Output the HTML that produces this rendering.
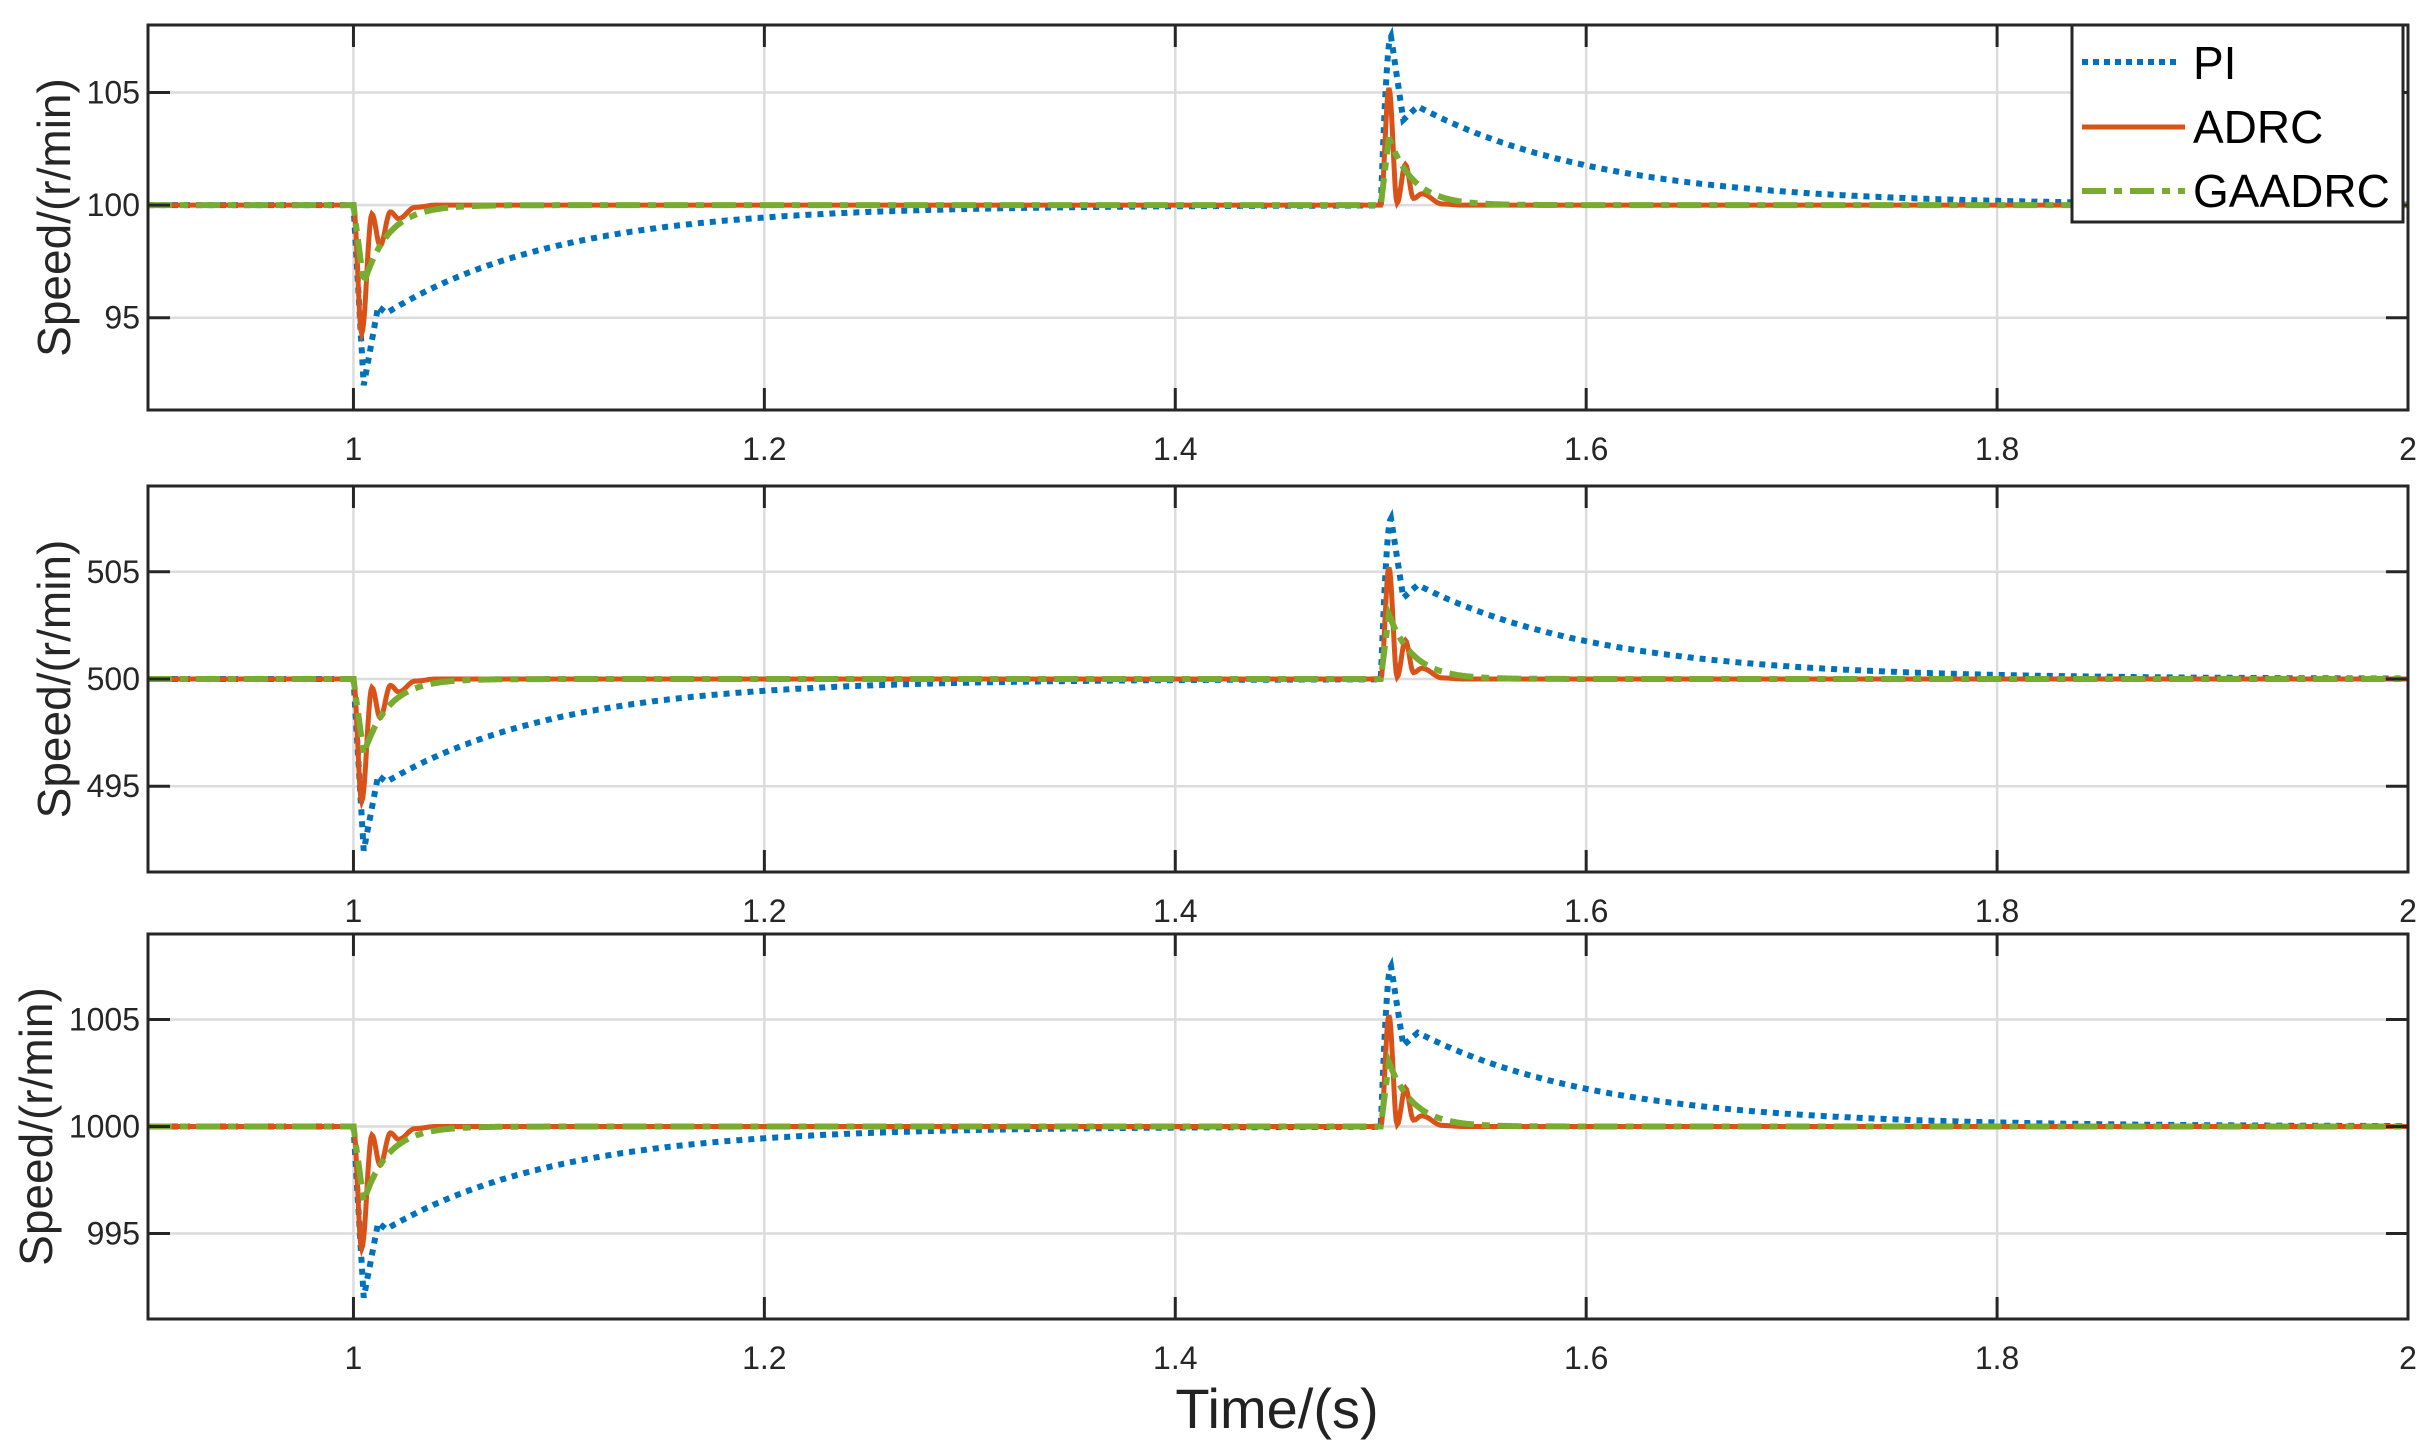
<!DOCTYPE html>
<html><head><meta charset="utf-8"><style>
html,body{margin:0;padding:0;background:#fff}
svg{display:block}
text{font-family:"Liberation Sans",Arial,sans-serif}
</style></head><body>
<svg id="s" width="2436" height="1453" viewBox="0 0 2436 1453" xmlns="http://www.w3.org/2000/svg">
<rect width="2436" height="1453" fill="#fff"/>
<g id="g"></g>
<text x="1277" y="1428" font-size="56" text-anchor="middle" fill="#222">Time/(s)</text>
</svg>
<script>
var NS="http://www.w3.org/2000/svg",G=document.getElementById('g');
function el(t,a,txt){var e=document.createElementNS(NS,t);for(var k in a)e.setAttribute(k,a[k]);if(txt!==undefined)e.textContent=txt;G.appendChild(e);return e;}
var L=148,R=2408,X0=0.9,X1=2;
function X(t){return L+(t-X0)/(X1-X0)*(R-L);}
function interp(pts,u){if(u<=0)return 0;for(var i=1;i<pts.length;i++){if(u<=pts[i][0]){var a=pts[i-1],b=pts[i];var s=(u-a[0])/(b[0]-a[0]);s=0.5-0.5*Math.cos(Math.PI*s);return a[1]+(b[1]-a[1])*s;}}return pts[pts.length-1][1];}
function pi(t){
 var v=0;
 if(t>=1){var u=t-1;
  if(u<0.005)v=-8*u/0.005;
  else if(u<0.012)v=-8+3.5*(u-0.005)/0.007;
  else if(u<0.016)v=-4.5-0.3*(u-0.012)/0.004;
  else v=-4.8*Math.exp(-(u-0.016)/0.085);}
 if(t>=1.5){var w=t-1.5,p;
  if(w<0.005)p=7.5*Math.sin(Math.PI/2*w/0.005);
  else if(w<0.011)p=7.5-3.7*(w-0.005)/0.006;
  else if(w<0.018)p=3.8+0.6*(w-0.011)/0.007;
  else p=4.4*Math.exp(-(w-0.018)/0.09);
  v+=p;}
 return v;}
var AD=[[0,0],[0.004,-5.7],[0.009,-0.4],[0.013,-1.8],[0.018,-0.3],[0.022,-0.6],[0.03,-0.1],[0.04,0]];
var AU=[[0,0],[0.004,5.2],[0.008,0.1],[0.012,1.8],[0.016,0.3],[0.02,0.5],[0.03,0.05],[0.04,0]];
function adrc(t){return interp(AD,t-1)+interp(AU,t-1.5);}
function ga(t){
 var v=0;
 if(t>=1){var u=t-1;
  if(u<0.005)v=-3.5*u/0.005;else v=-3.5*Math.exp(-(u-0.005)/0.012);}
 if(t>=1.5){var w=t-1.5;
  if(w<0.004)v+=3*w/0.004;else v+=3*Math.exp(-(w-0.004)/0.012);}
 return v;}
var panels=[
 {top:25,bot:410,ymin:90.9,ymax:108,base:100,ticks:[95,100,105]},
 {top:486,bot:872,ymin:491,ymax:509,base:500,ticks:[495,500,505]},
 {top:934,bot:1319,ymin:991,ymax:1009,base:1000,ticks:[995,1000,1005]}];
panels.forEach(function(p,i){
 function Y(v){return p.bot-(v-p.ymin)/(p.ymax-p.ymin)*(p.bot-p.top);}
 [1,1.2,1.4,1.6,1.8].forEach(function(t){el('line',{x1:X(t),x2:X(t),y1:p.top,y2:p.bot,stroke:'#dcdcdc','stroke-width':2.5});});
 p.ticks.forEach(function(v){el('line',{x1:L,x2:R,y1:Y(v),y2:Y(v),stroke:'#dcdcdc','stroke-width':2.5});});
 function path(f){var d='';for(var t=X0;t<=X1+1e-9;t+=0.0005){d+=(d?'L':'M')+X(t).toFixed(1)+','+Y(p.base+f(t)).toFixed(1);}return d;}
 el('path',{d:path(pi),fill:'none',stroke:'#0072bd','stroke-width':6,'stroke-dasharray':'6 6'});
 el('path',{d:path(adrc),fill:'none',stroke:'#d95319','stroke-width':5});
 el('path',{d:path(ga),fill:'none',stroke:'#77ac30','stroke-width':6,'stroke-dasharray':'24 8 8 8'});
 el('rect',{x:L,y:p.top,width:R-L,height:p.bot-p.top,fill:'none',stroke:'#262626','stroke-width':3});
 [1,1.2,1.4,1.6,1.8,2].forEach(function(t){
  el('line',{x1:X(t),x2:X(t),y1:p.top,y2:p.top+22,stroke:'#262626','stroke-width':3});
  el('line',{x1:X(t),x2:X(t),y1:p.bot,y2:p.bot-22,stroke:'#262626','stroke-width':3});
  el('text',{x:X(t),y:p.bot+50,'font-size':32,'text-anchor':'middle',fill:'#262626'},String(t));});
 p.ticks.forEach(function(v){
  el('line',{x1:L,x2:L+22,y1:Y(v),y2:Y(v),stroke:'#262626','stroke-width':3});
  el('line',{x1:R,x2:R-22,y1:Y(v),y2:Y(v),stroke:'#262626','stroke-width':3});
  el('text',{x:L-8,y:Y(v)+11,'font-size':32,'text-anchor':'end',fill:'#262626'},String(v));});
 var yl=i==2?52:70, cy=(p.top+p.bot)/2;
 el('text',{x:yl,y:cy,'font-size':46,'text-anchor':'middle',fill:'#262626',transform:'rotate(-90 '+yl+' '+cy+')'},'Speed/(r/min)');
});
el('rect',{x:2072,y:25,width:331,height:197,fill:'#fff',stroke:'#262626','stroke-width':3});
el('line',{x1:2082,x2:2180,y1:62,y2:62,stroke:'#0072bd','stroke-width':6,'stroke-dasharray':'6 5'});
el('line',{x1:2082,x2:2185,y1:127,y2:127,stroke:'#d95319','stroke-width':5});
el('line',{x1:2082,x2:2185,y1:191,y2:191,stroke:'#77ac30','stroke-width':6,'stroke-dasharray':'24 8 8 8'});
el('text',{x:2193,y:79,'font-size':46,fill:'#000'},'PI');
el('text',{x:2193,y:143,'font-size':46,fill:'#000'},'ADRC');
el('text',{x:2193,y:207,'font-size':46,fill:'#000'},'GAADRC');
</script>
</body></html>
